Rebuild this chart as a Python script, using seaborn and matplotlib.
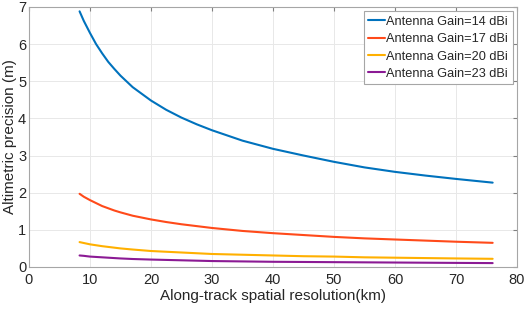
import matplotlib
matplotlib.use('Agg')
import matplotlib.pyplot as plt
import seaborn as sns
import pandas as pd

# 데이터
resolution = [8.3, 9, 10, 11, 12, 13, 14, 15, 17, 20, 22.5, 25, 27.5, 30, 35, 40, 45, 50, 55, 60, 65, 70, 76]
gain_14 = [6.88, 6.62, 6.3, 6.0, 5.75, 5.52, 5.33, 5.15, 4.84, 4.48, 4.23, 4.02, 3.84, 3.68,
           3.4, 3.18, 3.0, 2.83, 2.68, 2.56, 2.46, 2.37, 2.27]
gain_17 = [1.97, 1.89, 1.8, 1.72, 1.64, 1.58, 1.52, 1.47, 1.38, 1.28, 1.21, 1.15, 1.1, 1.05,
           0.97, 0.91, 0.86, 0.81, 0.77, 0.74, 0.71, 0.68, 0.65]
gain_20 = [0.67, 0.645, 0.61, 0.585, 0.56, 0.54, 0.52, 0.5, 0.47, 0.43, 0.41, 0.39, 0.37, 0.35,
           0.33, 0.31, 0.29, 0.28, 0.26, 0.25, 0.24, 0.23, 0.22]
gain_23 = [0.31, 0.3, 0.28, 0.27, 0.26, 0.25, 0.24, 0.23, 0.215, 0.2, 0.19, 0.18, 0.17, 0.16,
           0.15, 0.14, 0.135, 0.13, 0.125, 0.12, 0.115, 0.11, 0.105]
labels = ['Antenna Gain=14 dBi', 'Antenna Gain=17 dBi', 'Antenna Gain=20 dBi', 'Antenna Gain=23 dBi']
colors = ['#0072BD', '#FF4A1A', '#FFB000', '#8B1A94']

# long format 으로 변환
frames = []
for lab, vals in zip(labels, [gain_14, gain_17, gain_20, gain_23]):
    frames.append(pd.DataFrame({'res': resolution, 'prec': vals, 'gain': lab}))
df = pd.concat(frames, ignore_index=True)

sns.set_style('white')
plt.rcParams['font.family'] = ['Liberation Sans', 'DejaVu Sans']

fig = plt.figure(figsize=(5.26, 3.13), dpi=100)
ax = fig.add_axes([0.055, 0.147, 0.928, 0.831])
sns.lineplot(data=df, x='res', y='prec', hue='gain', palette=colors, linewidth=1.5, ax=ax)

ax.set_xlim(0, 80)
ax.set_ylim(0, 7)
ax.set_xticks(range(0, 81, 10))
ax.set_yticks(range(0, 8))
ax.grid(True, color='#e8e8e8', linewidth=0.7)
ax.tick_params(direction='in', top=True, right=True, labelsize=10.5, length=3, color='#808080')
ax.tick_params(axis='x', pad=4)
ax.tick_params(axis='y', pad=2)
for s in ax.spines.values():
    s.set_color('#a6a6a6')
    s.set_linewidth(0.8)
ax.set_xlabel('Along-track spatial resolution(km)', fontsize=11, labelpad=2)
ax.set_ylabel('Altimetric precision (m)', fontsize=11, labelpad=1)

leg = ax.legend(loc='upper right', fontsize=9.2, handlelength=1.3, handletextpad=0.1,
                borderpad=0.35, labelspacing=0.42, fancybox=False, framealpha=1,
                borderaxespad=0.35)
leg.get_frame().set_edgecolor('#a6a6a6')
leg.get_frame().set_linewidth(0.8)

plt.savefig('out.png', dpi=100)
